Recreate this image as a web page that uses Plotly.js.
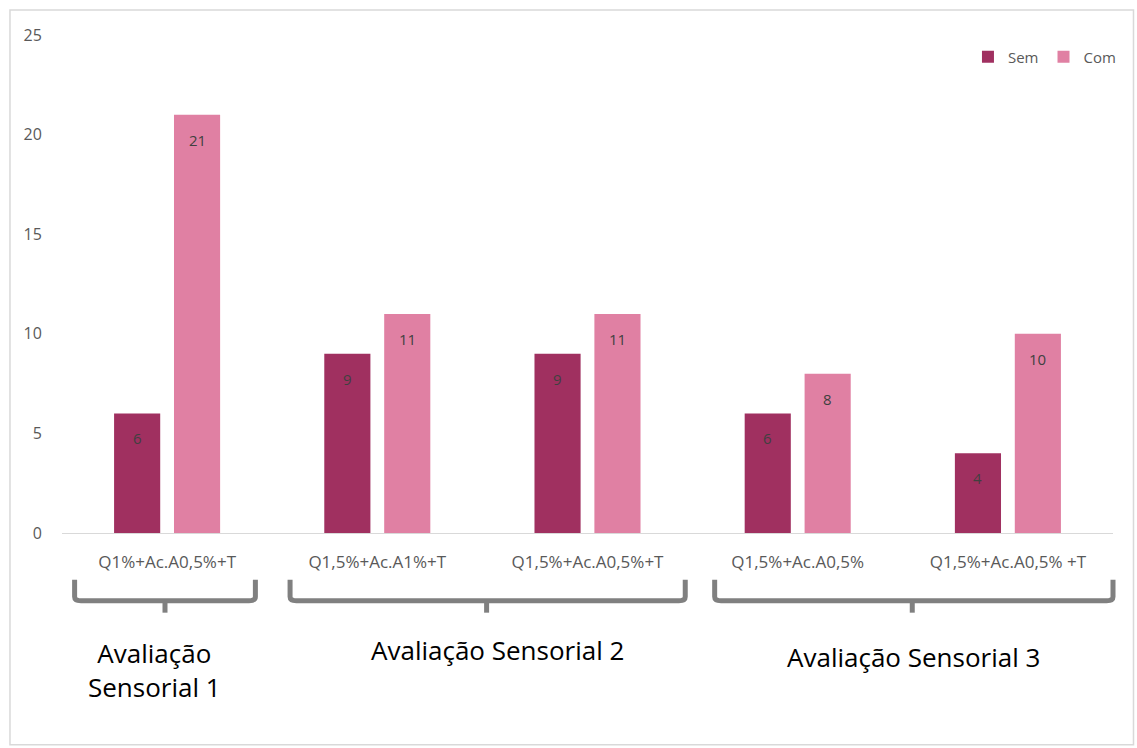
<!DOCTYPE html>
<html><head><meta charset="utf-8">
<script src="https://cdn.plot.ly/plotly-3.0.1.min.js"></script>
<style>body{margin:0;background:#fff}#c{width:1137px;height:748px}</style>
</head><body><div id="c"></div>
<script>
const categories = ["Q1%+Ac.A0,5%+T", "Q1,5%+Ac.A1%+T", "Q1,5%+Ac.A0,5%+T", "Q1,5%+Ac.A0,5%", "Q1,5%+Ac.A0,5% +T"];
const tickLabels = ["Q1%+Ac.A0,5%+T", "Q1,5%+Ac.A1%+T", "Q1,5%+Ac.A0,5%+T", "Q1,5%+Ac.A0,5%", "Q1,5%+Ac.A0,5% +T"];
const semValues = [6, 9, 9, 6, 4];
const comValues = [21, 11, 11, 8, 10];
const seriesNames = ["Sem", "Com"];
const groupLabels = ["Avaliação<br>Sensorial 1", "Avaliação Sensorial 2", "Avaliação Sensorial 3"];

const font = "Open Sans, Noto Sans, sans-serif";
const labelFont = {family: font, size: 15, color: "#404040"};

const traces = [
  {type: "bar", name: seriesNames[0], x: categories, y: semValues, marker: {color: "#A03060"},
   hoverinfo: "x+y+name"},
  {type: "bar", name: seriesNames[1], x: categories, y: comValues, marker: {color: "#E080A3"},
   hoverinfo: "x+y+name"}
];

// value labels placed through the axes (x = category, y = value)
const valueLabels = [];
categories.forEach((c, i) => {
  valueLabels.push({x: c, y: semValues[i], xref: "x", yref: "y", text: String(semValues[i]),
    xshift: -30, yshift: -25, showarrow: false, xanchor: "center", yanchor: "middle", font: labelFont});
  valueLabels.push({x: c, y: comValues[i], xref: "x", yref: "y", text: String(comValues[i]),
    xshift: 30, yshift: -25, showarrow: false, xanchor: "center", yanchor: "middle", font: labelFont});
});

const grey = "#808080";
function bracket(x1, x2, xc) {
  return [
    {type: "path", xref: "paper", yref: "paper",
     path: `M ${x1},-0.094 L ${x1},-0.128 Q ${x1},-0.136 ${x1+0.006},-0.136 L ${x2-0.006},-0.136 Q ${x2},-0.136 ${x2},-0.128 L ${x2},-0.094`,
     line: {color: grey, width: 5}},
    {type: "line", xref: "paper", yref: "paper", x0: xc, x1: xc, y0: -0.136, y1: -0.16,
     line: {color: grey, width: 5}}
  ];
}

const annFont = {family: font, size: 26, color: "#000"};

const layout = {
  width: 1137, height: 748,
  margin: {l: 62, r: 24, t: 35, b: 215},
  paper_bgcolor: "#fff", plot_bgcolor: "#fff",
  font: {family: font, color: "#595959", size: 16},
  barmode: "group", bargap: 0.43, bargroupgap: 0.23,
  showlegend: true,
  legend: {orientation: "h", x: 0.862, y: 0.956, xanchor: "left", yanchor: "middle",
           font: {family: font, size: 15, color: "#595959"}, bgcolor: "rgba(0,0,0,0)",
           itemwidth: 30, traceorder: "normal"},
  xaxis: {type: "category", range: [-0.5, 4.5], tickvals: categories, ticktext: tickLabels,
          showline: true, linecolor: "#d9d9d9", linewidth: 1, showgrid: false, zeroline: false,
          ticks: "outside", ticklen: 14, tickcolor: "rgba(0,0,0,0)",
          tickfont: {family: font, size: 17, color: "#595959"}},
  yaxis: {range: [0, 25], dtick: 5, showgrid: false, zeroline: false, showline: false,
          ticks: "outside", ticklen: 16, tickcolor: "rgba(0,0,0,0)",
          tickfont: {family: font, size: 16, color: "#595959"}},
  shapes: [
    {type: "rect", xref: "paper", yref: "paper", x0: -0.0495, x1: 1.0195, y0: -0.425, y1: 1.05,
     line: {color: "#d9d9d9", width: 1.5}, fillcolor: "rgba(0,0,0,0)"},
    ...bracket(0.012, 0.184, 0.098),
    ...bracket(0.217, 0.593, 0.404),
    ...bracket(0.621, 1.0, 0.809)
  ],
  annotations: [
    ...valueLabels,
    {text: groupLabels[0], xref: "paper", yref: "paper", x: 0.088, y: -0.275, xanchor: "center", yanchor: "middle",
     showarrow: false, font: annFont, align: "center"},
    {text: groupLabels[1], xref: "paper", yref: "paper", x: 0.414, y: -0.235, xanchor: "center", yanchor: "middle",
     showarrow: false, font: annFont},
    {text: groupLabels[2], xref: "paper", yref: "paper", x: 0.810, y: -0.249, xanchor: "center", yanchor: "middle",
     showarrow: false, font: annFont}
  ]
};

Plotly.newPlot("c", traces, layout, {displayModeBar: false, responsive: false});
</script></body></html>
